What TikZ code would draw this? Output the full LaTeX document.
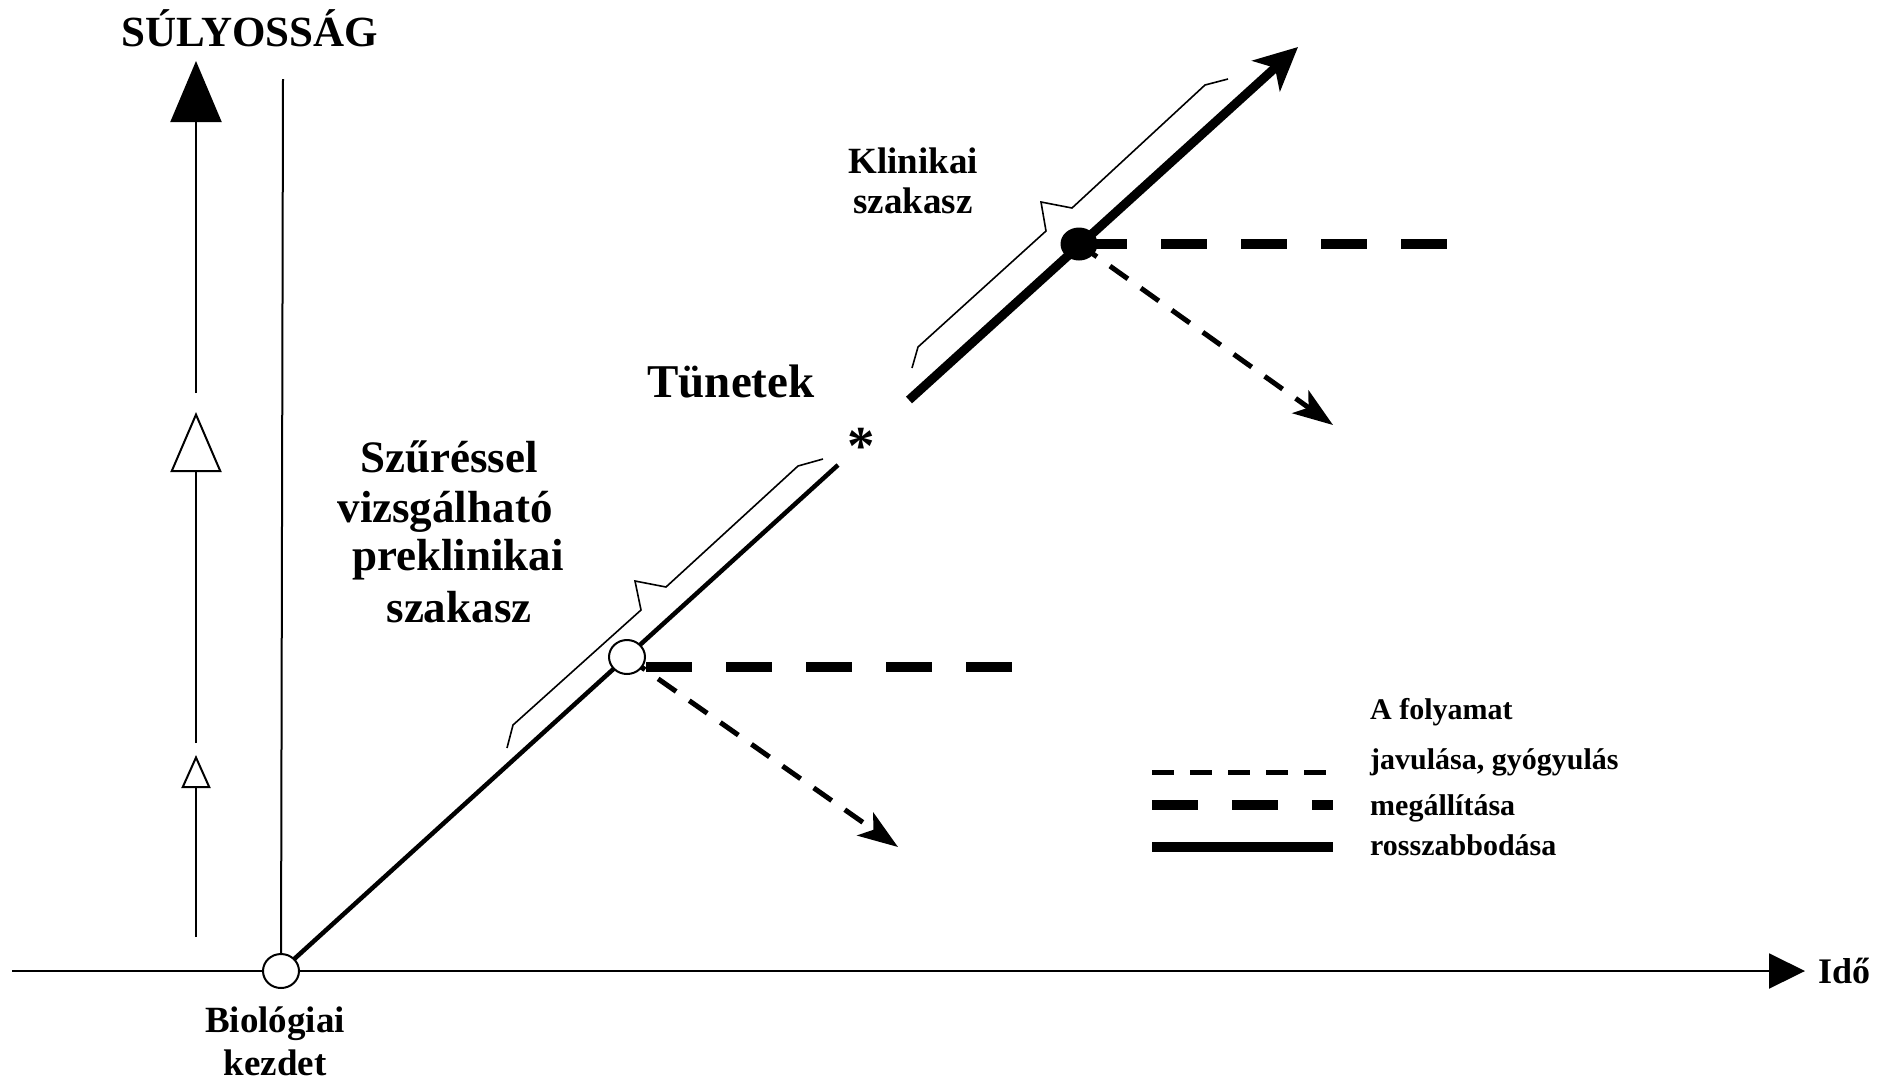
\documentclass[tikz,border=0pt]{standalone}
\usepackage{fontspec}
\setmainfont{Liberation Serif}
\usetikzlibrary{arrows.meta,shapes.geometric}
\begin{document}
\begin{tikzpicture}[x=1pt,y=-1pt,
  axisline/.style={line width=2pt},
  txt/.style={inner sep=0pt, anchor=base, font=\bfseries#1},
  txt/.default={},
  brace/.style={line width=1.6pt, line join=miter},
  ring/.style={ellipse, draw, line width=2pt, fill=white, minimum width=36pt, minimum height=34pt, inner sep=0pt},
  dot/.style={ellipse, fill=black, minimum width=37pt, minimum height=33pt, inner sep=0pt},
  stopdash/.style={line width=10pt, dash pattern=on 46pt off 34pt},
  healdash/.style={line width=5pt, dash pattern=on 22pt off 16pt},
  healtip/.style={-{Stealth[length=40pt,width=28pt,inset=10pt]}},
]
\useasboundingbox (0,0) rectangle (1887,1080);

% coordinates
\coordinate (tleft) at (12,971);
\coordinate (tend) at (1805,971);
\coordinate (vtop) at (283,79);
\coordinate (s1a) at (196,937); \coordinate (s1b) at (196,755);
\coordinate (s2a) at (196,743); \coordinate (s2b) at (196,412);
\coordinate (s3a) at (196,393); \coordinate (s3b) at (196,61);
\coordinate (thinend) at (838,465);
\coordinate (thickstart) at (909,400);
\coordinate (tip) at (1298,47);
\coordinate (stop1) at (1015,667);
\coordinate (stop1s) at (646,667);
\coordinate (stop2s) at (1081,244);
\coordinate (stop2) at (1448,244);
\coordinate (heal1) at (898,847);
\coordinate (heal2) at (1333,425);

% circle positions
\path (281,971) coordinate (bioc);
\path (627,657) coordinate (scrc);
\path (1079,244) coordinate (clinc);

% time axis
\draw[axisline, -{Triangle[length=36pt,width=35pt]}] (tleft) -- (tend);
% severity arrows
\draw[axisline, -{Triangle[open,length=33pt,width=29pt]}] (s1a) -- (s1b);
\draw[axisline, -{Triangle[open,length=60pt,width=51pt]}] (s2a) -- (s2b);
\draw[axisline, -{Triangle[length=61pt,width=51pt]}] (s3a) -- (s3b);
% vertical start line
\draw[axisline] (vtop) -- (bioc);

% main course
\draw[line width=4.5pt] (bioc) -- (thinend);
\draw[line width=9pt, -{Stealth[length=43pt,width=41pt,inset=12pt]}] (thickstart) -- (tip);

% braces
\draw[brace] (507,748) -- (513,725) -- (641,610) -- (635,581) -- (666,587) -- (798,466) -- (823,459);
\draw[brace] (912,368) -- (918,347) -- (1046,231) -- (1041,202) -- (1072,208) -- (1205,85) -- (1228,79);

% outcomes
\draw[stopdash] (stop1s) -- (stop1);
\draw[stopdash] (stop2s) -- (stop2);
\draw[healdash, healtip] (scrc) -- (heal1);
\draw[healdash, healtip] (clinc) -- (heal2);

% circles
\node[ring] (bio) at (bioc) {};
\node[ring] (scr) at (scrc) {};
\node[dot] (clin) at (clinc) {};

% asterisk
\node[txt={\fontsize{55}{60}\selectfont}] (ast) at (861,464) {*};

% texts
\node[txt={\fontsize{43}{50}\selectfont}] (sev) at (250,46) {SÚLYOSSÁG};
\node[txt={\fontsize{37}{40}\selectfont}] (kl1) at (913,173) {Klinikai};
\node[txt={\fontsize{37}{40}\selectfont}] (kl2) at (913,213) {szakasz};
\node[txt={\fontsize{47}{50}\selectfont}] (tun) at (731,397) {Tünetek};
\node[txt={\fontsize{45}{50}\selectfont}] (sz1) at (449,472) {Szűréssel};
\node[txt={\fontsize{45}{50}\selectfont}] (sz2) at (445,522) {vizsgálható};
\node[txt={\fontsize{45}{50}\selectfont}] (sz3) at (458,570) {preklinikai};
\node[txt={\fontsize{45}{50}\selectfont}] (sz4) at (459,622) {szakasz};
\node[txt={\fontsize{37}{40}\selectfont}] (bi1) at (275,1032) {Biológiai};
\node[txt={\fontsize{37}{40}\selectfont}] (bi2) at (275,1075) {kezdet};
\node[txt={\fontsize{36}{40}\selectfont}, anchor=base west] (ido) at (1818,983) {Idő};

% legend
\node[txt={\fontsize{30}{34}\selectfont}, anchor=base west] (lg0) at (1370,719) {A folyamat};
\node[txt={\fontsize{30}{34}\selectfont}, anchor=base west] (lg1) at (1370,769) {javulása, gyógyulás};
\node[txt={\fontsize{30}{34}\selectfont}, anchor=base west] (lg2) at (1370,815) {megállítása};
\node[txt={\fontsize{30}{34}\selectfont}, anchor=base west] (lg3) at (1370,855) {rosszabbodása};
\coordinate (l1a) at (1152,772); \coordinate (l1b) at (1328,772);
\coordinate (l2a) at (1152,805); \coordinate (l2b) at (1333,805);
\coordinate (l3a) at (1152,847); \coordinate (l3b) at (1333,847);
\draw[healdash] (l1a) -- (l1b);
\draw[stopdash] (l2a) -- (l2b);
\draw[line width=10pt] (l3a) -- (l3b);
\end{tikzpicture}
\end{document}
